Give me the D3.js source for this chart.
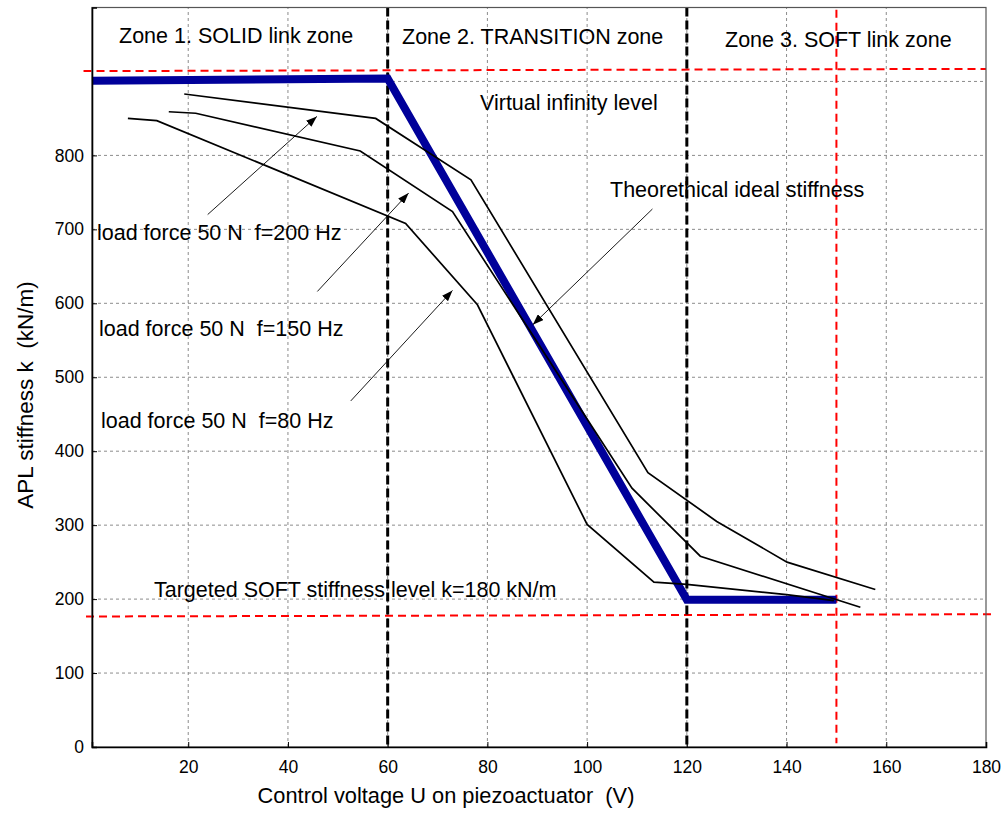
<!DOCTYPE html>
<html>
<head>
<meta charset="utf-8">
<script src="https://cdn.jsdelivr.net/npm/d3@7"></script>
<style>
  body { margin: 0; background: #fff; }
  svg text { font-family: "Liberation Sans", Arial, sans-serif; fill: #000; white-space: pre; }
</style>
</head>
<body>
<div class="svg-container"></div>
<script>
// ---- data ----
var voltageTicks = [20, 40, 60, 80, 100, 120, 140, 160, 180];
var stiffnessTicks = [0, 100, 200, 300, 400, 500, 600, 700, 800];
var gridVoltage = [20, 40, 60, 80, 100, 120, 140, 160];
var gridStiffness = [100, 200, 300, 400, 500, 600, 700, 800, 900];

// theoretical ideal stiffness (thick blue)
var idealU = [0.7, 60, 120, 150];
var idealK = [901, 904, 199, 199];

// measured curves, load force 50 N
var f200U = [19.2, 57.6, 76.7, 112.2, 126, 140.1, 157.8];
var f200K = [883, 850, 767, 371, 305, 250, 213];
var f150U = [16.1, 21.5, 54.5, 73, 109, 122.7, 154.8];
var f150K = [859, 857, 806, 724, 350, 258, 189];
var f80U = [7.9, 13.7, 63.6, 78, 100, 113.4, 120, 140, 149.5];
var f80K = [850, 847, 708, 598, 301, 223, 220, 206, 198];

// zone borders and reference levels
var zoneBorders = [60, 120];
var infinityLevel = [914, 917];
var softLevel = [176.5, 179.5];
var softVoltage = 150;

var chart = (function() {
    var svg = null, x = null, y = null;
    var W = 1003, H = 818;

    function cacheDom() {
        svg = d3.select(".svg-container").append("svg")
            .attr("width", W).attr("height", H);
        x = d3.scaleLinear().domain([0.7, 180]).range([92, 986]);
        y = d3.scaleLinear().domain([0, 1000]).range([747, 7.5]);

        var defs = svg.append("defs");
        defs.append("marker")
            .attr("id", "head")
            .attr("markerUnits", "userSpaceOnUse")
            .attr("markerWidth", 11).attr("markerHeight", 8)
            .attr("refX", 11).attr("refY", 4)
            .attr("orient", "auto")
            .append("path").attr("d", "M0,0 L11,4 L0,8 Z").attr("fill", "#000");
    }

    function zip(us, ks) {
        return us.map(function(u, i) { return [u, ks[i]]; });
    }

    function drawGrid() {
        var g = svg.append("g").attr("class", "grid");
        g.selectAll("line.gx").data(gridVoltage).enter().append("line")
            .attr("x1", function(d) { return x(d); }).attr("x2", function(d) { return x(d); })
            .attr("y1", y(0)).attr("y2", y(1000))
            .attr("stroke", "#8c8c8c").attr("stroke-dasharray", "3,3");
        g.selectAll("line.gy").data(gridStiffness).enter().append("line")
            .attr("y1", function(d) { return y(d); }).attr("y2", function(d) { return y(d); })
            .attr("x1", x(0.7)).attr("x2", x(180))
            .attr("stroke", "#8c8c8c").attr("stroke-dasharray", "3,3");
    }

    function drawAxes() {
        // frame
        svg.append("rect")
            .attr("x", x(0.7)).attr("y", y(1000))
            .attr("width", x(180) - x(0.7)).attr("height", y(0) - y(1000))
            .attr("fill", "none").attr("stroke", "#555").attr("stroke-width", 1.2);

        var xAxis = d3.axisBottom(x).tickValues(voltageTicks).tickSize(-5).tickPadding(10);
        var gx = svg.append("g").attr("transform", "translate(0," + y(0) + ")").call(xAxis);
        gx.select(".domain").attr("stroke-width", 1.6);
        gx.selectAll("text").style("font-size", "17.5px").attr("dy", "0.9em");

        var yAxis = d3.axisLeft(y).tickValues(stiffnessTicks).tickSize(-5).tickPadding(8);
        var gy = svg.append("g").attr("transform", "translate(" + x(0.7) + ",0)").call(yAxis);
        gy.select(".domain").attr("stroke-width", 1.6);
        gy.selectAll("text").style("font-size", "17.5px");

        svg.append("text")
            .attr("x", 446).attr("y", 803)
            .attr("text-anchor", "middle").style("font-size", "21.8px")
            .text("Control voltage U on piezoactuator  (V)");
        svg.append("text")
            .attr("transform", "translate(33,395) rotate(-90)")
            .attr("text-anchor", "middle").style("font-size", "22.5px")
            .text("APL stiffness k  (kN/m)");
    }

    function drawLevels() {
        var red = svg.append("g").attr("stroke", "#ff0000").attr("stroke-width", 2)
            .attr("stroke-dasharray", "8,5").attr("fill", "none");
        red.append("line")
            .attr("x1", x(-1)).attr("x2", x(180))
            .attr("y1", y(infinityLevel[0])).attr("y2", y(infinityLevel[1]));
        red.append("line")
            .attr("x1", x(-0.5)).attr("x2", x(181))
            .attr("y1", y(softLevel[0])).attr("y2", y(softLevel[1]));
        red.append("line")
            .attr("x1", x(softVoltage)).attr("x2", x(softVoltage))
            .attr("y1", y(997)).attr("y2", y(5));

        svg.selectAll("line.zone").data(zoneBorders).enter().append("line")
            .attr("x1", function(d) { return x(d); }).attr("x2", function(d) { return x(d); })
            .attr("y1", y(1000)).attr("y2", y(0))
            .attr("stroke", "#000").attr("stroke-width", 3)
            .attr("stroke-dasharray", "9,4");
    }

    function drawCurves() {
        var line = d3.line()
            .x(function(d) { return x(d[0]); })
            .y(function(d) { return y(d[1]); });

        svg.append("path").datum(zip(idealU, idealK))
            .attr("d", line).attr("fill", "none")
            .attr("stroke", "#00009a").attr("stroke-width", 8)
            .attr("stroke-linejoin", "miter");

        var curves = [zip(f200U, f200K), zip(f150U, f150K), zip(f80U, f80K)];
        svg.selectAll("path.meas").data(curves).enter().append("path")
            .attr("class", "meas")
            .attr("d", line).attr("fill", "none")
            .attr("stroke", "#000").attr("stroke-width", 1.7);
    }

    function drawNotes() {
        var arrows = [
            [[23.9, 720], [45.8, 852.7]],
            [[45.9, 616], [64.2, 749]],
            [[52.6, 468], [73.0, 617.4]],
            [[113.1, 727.5], [89.1, 571]]
        ];
        svg.selectAll("line.arrow").data(arrows).enter().append("line")
            .attr("x1", function(d) { return x(d[0][0]); })
            .attr("y1", function(d) { return y(d[0][1]); })
            .attr("x2", function(d) { return x(d[1][0]); })
            .attr("y2", function(d) { return y(d[1][1]); })
            .attr("stroke", "#000").attr("stroke-width", 0.9)
            .attr("marker-end", "url(#head)");

        var notes = [
            ["Zone 1. SOLID link zone", 119, 43],
            ["Zone 2. TRANSITION zone", 402, 44],
            ["Zone 3. SOFT link zone", 725, 47],
            ["Virtual infinity level", 480, 110],
            ["Theorethical ideal stiffness", 610, 197],
            ["load force 50 N  f=200 Hz", 97, 240],
            ["load force 50 N  f=150 Hz", 99, 336],
            ["load force 50 N  f=80 Hz", 101, 428],
            ["Targeted SOFT stiffness level k=180 kN/m", 154, 597]
        ];
        svg.selectAll("text.note").data(notes).enter().append("text")
            .attr("x", function(d) { return d[1]; })
            .attr("y", function(d) { return d[2]; })
            .style("font-size", "21.5px")
            .text(function(d) { return d[0]; });
    }

    function init() {
        cacheDom();
        drawGrid();
        drawLevels();
        drawCurves();
        drawAxes();
        drawNotes();
    }

    init();
    return {};
})();
</script>
</body>
</html>
